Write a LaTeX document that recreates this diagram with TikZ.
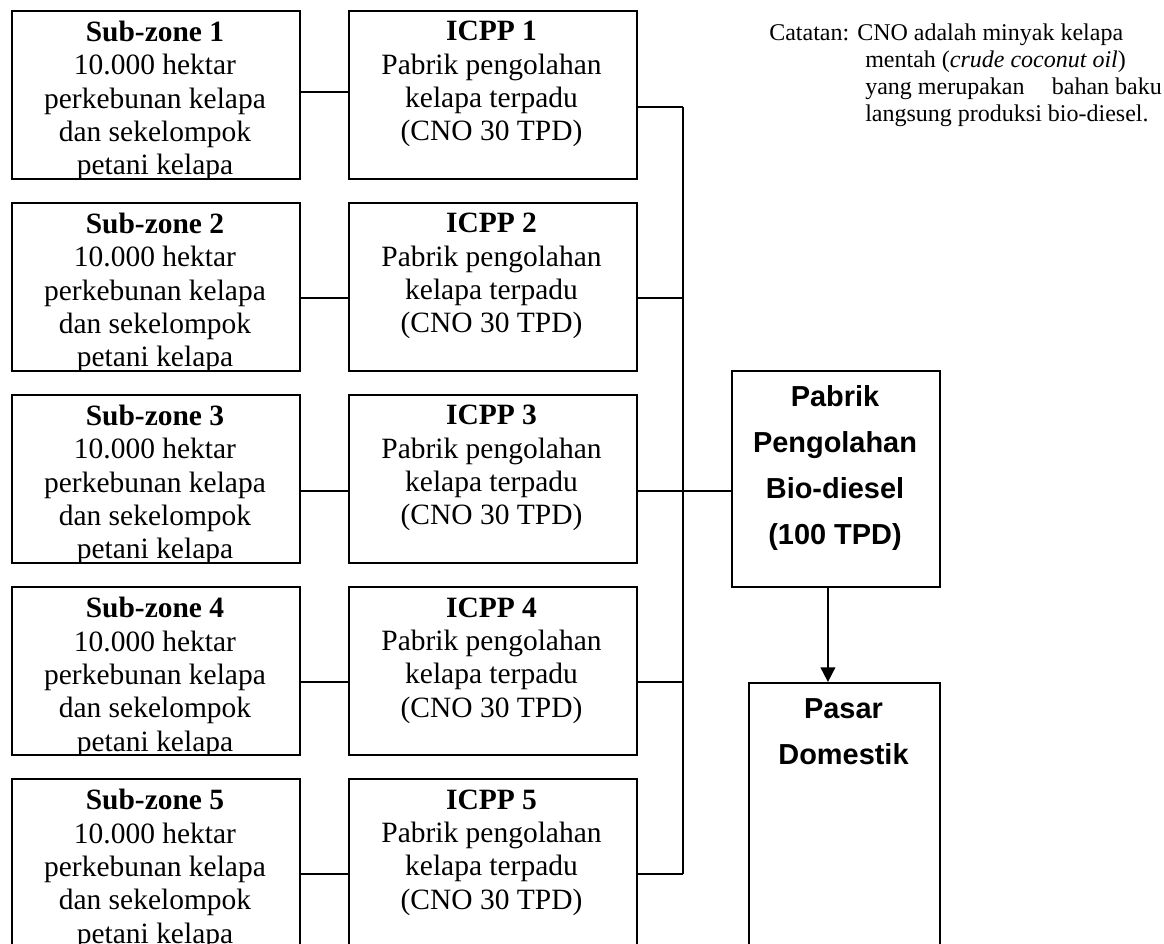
\documentclass[tikz,border=0pt]{standalone}
\usepackage{fontspec}
\setmainfont{Liberation Serif}
\newfontfamily\arialfont{Liberation Sans}
\usetikzlibrary{arrows.meta}
\newcommand{\boxfont}{\fontsize{22.1}{25}\selectfont}
\newcommand{\biofont}{\arialfont\bfseries\fontsize{21.7}{34.5}\selectfont}
\newcommand{\notefont}{\fontsize{18}{20.25}\selectfont}
\tikzset{
  zonebox/.style={draw, line width=1.4pt, minimum width=216pt, minimum height=126pt, inner sep=0pt, anchor=north west},
  zonetext/.style={anchor=base, align=center, inner sep=0pt, font=\boxfont},
  link/.style={line width=1.4pt}
}
\begin{document}
\begin{tikzpicture}[x=0.75pt,y=0.75pt,yscale=-1,xscale=1]
\useasboundingbox (0,0) rectangle (1164,944);

%Shape: Rectangle (sub-zone boxes)
\node (sub1) [zonebox] at (11,10) {};
\node (sub2) [zonebox] at (11,202) {};
\node (sub3) [zonebox] at (11,394) {};
\node (sub4) [zonebox] at (11,586) {};
\node (sub5) [zonebox] at (11,778) {};
%Shape: Rectangle (ICPP boxes)
\node (icpp1) [zonebox] at (348,10) {};
\node (icpp2) [zonebox] at (348,202) {};
\node (icpp3) [zonebox] at (348,394) {};
\node (icpp4) [zonebox] at (348,586) {};
\node (icpp5) [zonebox] at (348,778) {};
%Shape: Rectangle (bio-diesel, market)
\node (bio) [zonebox, minimum width=156pt, minimum height=162pt] at (731,370) {};
\node (pasar) [zonebox, minimum width=143.25pt, minimum height=225pt] at (748,682) {};

% Text Node (anchored at the baseline of the last line)
\begin{scope}
\clip (sub1.north west) rectangle (sub1.south east);
\node (subtext1) [zonetext] at (155,175) {\textbf{Sub-zone 1}\\10.000 hektar\\perkebunan kelapa\\dan sekelompok\\petani kelapa};
\end{scope}
\begin{scope}
\clip (sub2.north west) rectangle (sub2.south east);
\node (subtext2) [zonetext] at (155,367) {\textbf{Sub-zone 2}\\10.000 hektar\\perkebunan kelapa\\dan sekelompok\\petani kelapa};
\end{scope}
\begin{scope}
\clip (sub3.north west) rectangle (sub3.south east);
\node (subtext3) [zonetext] at (155,559) {\textbf{Sub-zone 3}\\10.000 hektar\\perkebunan kelapa\\dan sekelompok\\petani kelapa};
\end{scope}
\begin{scope}
\clip (sub4.north west) rectangle (sub4.south east);
\node (subtext4) [zonetext] at (155,751) {\textbf{Sub-zone 4}\\10.000 hektar\\perkebunan kelapa\\dan sekelompok\\petani kelapa};
\end{scope}
\begin{scope}
\clip (sub5.north west) rectangle (sub5.south east);
\node (subtext5) [zonetext] at (155,943) {\textbf{Sub-zone 5}\\10.000 hektar\\perkebunan kelapa\\dan sekelompok\\petani kelapa};
\end{scope}
% Text Node
\node (icpptext1) [zonetext] at (491.5,141) {\textbf{ICPP 1}\\Pabrik pengolahan\\kelapa terpadu\\(CNO 30 TPD)};
\node (icpptext2) [zonetext] at (491.5,333) {\textbf{ICPP 2}\\Pabrik pengolahan\\kelapa terpadu\\(CNO 30 TPD)};
\node (icpptext3) [zonetext] at (491.5,525) {\textbf{ICPP 3}\\Pabrik pengolahan\\kelapa terpadu\\(CNO 30 TPD)};
\node (icpptext4) [zonetext] at (491.5,717) {\textbf{ICPP 4}\\Pabrik pengolahan\\kelapa terpadu\\(CNO 30 TPD)};
\node (icpptext5) [zonetext] at (491.5,909) {\textbf{ICPP 5}\\Pabrik pengolahan\\kelapa terpadu\\(CNO 30 TPD)};
% Text Node
\node (biotext) [zonetext, font=\biofont] at (835,545) {Pabrik\\Pengolahan\\Bio-diesel\\(100 TPD)};
\node (pasartext) [zonetext, font=\biofont] at (843.5,764) {Pasar\\Domestik};
% Text Node
\node (catatan) [anchor=base west, align=left, inner sep=0pt, font=\notefont] at (769,121.6) {Catatan: CNO adalah minyak kelapa\\\hspace*{72pt}mentah (\textit{crude coconut oil})\\\hspace*{72pt}yang merupakan\hspace{16pt} bahan baku\\\hspace*{72pt}langsung produksi bio-diesel.};

%Straight Lines (bus)
\coordinate (bus1) at (683,107);
\coordinate (bus2) at (683,298);
\coordinate (bus3) at (683,491);
\coordinate (bus4) at (683,682);
\coordinate (bus5) at (683,874);
\draw [link] ([yshift=-2.25pt]sub1.east) -- ([yshift=-2.25pt]icpp1.west);
\draw [link] (sub2.east |- bus2) -- (icpp2.west |- bus2);
\draw [link] (sub3.east |- bus3) -- (icpp3.west |- bus3);
\draw [link] (sub4.east |- bus4) -- (icpp4.west |- bus4);
\draw [link] (sub5.east |- bus5) -- (icpp5.west |- bus5);
\draw [link] (icpp1.east |- bus1) -- (bus1);
\draw [link] (icpp2.east |- bus2) -- (bus2);
\draw [link] (icpp3.east |- bus3) -- (bus3);
\draw [link] (icpp4.east |- bus4) -- (bus4);
\draw [link] (icpp5.east |- bus5) -- (bus5);
\draw [link] (bus1) -- (bus5);
\draw [link] (bus3) -- (bio.west |- bus3);
%Straight Lines (arrow)
\draw [link, -{Triangle[width=11pt,length=11pt]}] ([xshift=-6pt]bio.south) -- ([xshift=-6pt]bio.south |- pasar.north);
\end{tikzpicture}
\end{document}
